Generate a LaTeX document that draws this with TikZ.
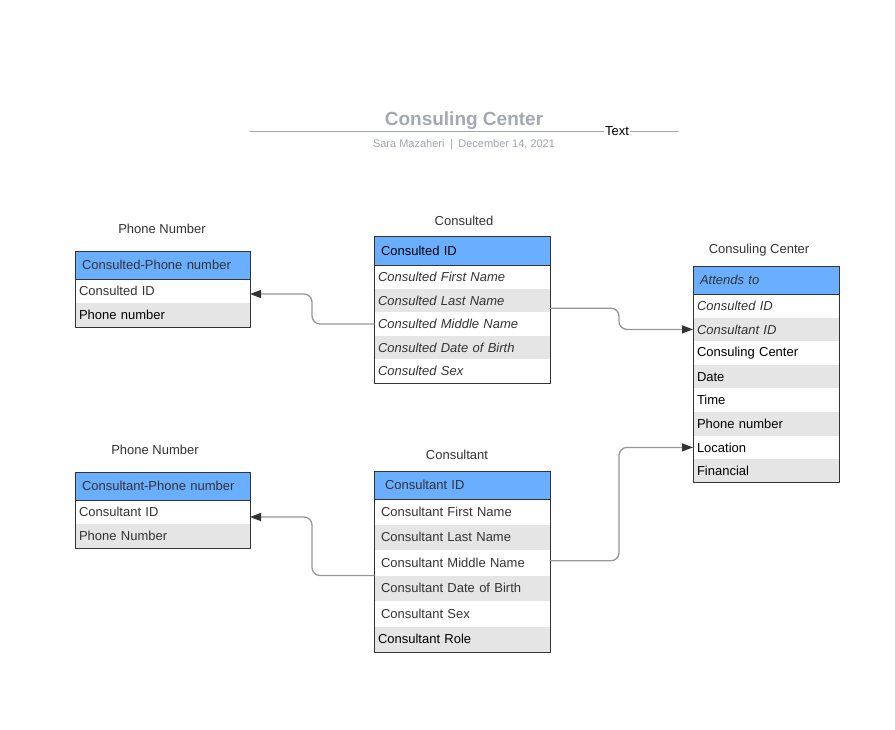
\documentclass[tikz,border=0pt]{standalone}
\usepackage{fontspec}
\setmainfont{Liberation Sans}
\usetikzlibrary{arrows.meta}

\definecolor{hdblue}{RGB}{106,174,255}
\definecolor{rowgray}{RGB}{229,229,229}
\definecolor{txtgray}{RGB}{51,51,51}
\definecolor{titlegray}{RGB}{164,168,180}
\definecolor{subgray}{RGB}{160,164,174}
\definecolor{rulegray}{RGB}{160,164,184}
\definecolor{conngray}{RGB}{150,150,150}
\definecolor{edge}{RGB}{51,51,51}

\begin{document}
\begin{tikzpicture}[line cap=round,line join=round,>={Triangle[length=11pt,width=8pt,color=edge,fill=edge]},x=1pt,y=-1pt,
  every node/.style={font=\fontsize{13}{15}\selectfont,text=txtgray},
  tbl/.style={anchor=north west,inner ysep=0pt,outer sep=0pt,align=left},
  hd/.style={tbl,fill=hdblue,draw=edge,line width=0.9pt,minimum height=28pt},
  cdrow/.style={tbl,text width=168pt,inner xsep=4pt,minimum height=23.6pt,font=\fontsize{13}{15}\selectfont\itshape},
  pnrow/.style={tbl,text width=167pt,inner xsep=4pt,minimum height=24pt},
  ccrow/.style={tbl,text width=138pt,inner xsep=4pt,minimum height=23.6pt},
  ctrow/.style={tbl,text width=162pt,inner xsep=7pt,minimum height=25.5pt},
  shade/.style={fill=rowgray},
  frame/.style={draw=edge,line width=0.9pt},
  conn/.style={draw=conngray,line width=1.3pt,rounded corners=8pt}]

\useasboundingbox (0,0) rectangle (895,729);

% title block
\draw[rulegray,line width=1pt] (250,131) -- (678,131);
\node[font=\fontsize{19}{22}\selectfont\bfseries,text=titlegray] (title) at (464,121) {Consuling Center};
\node[font=\fontsize{11}{13}\selectfont,text=subgray] (sub) at (464,145) {Sara Mazaheri\enspace|\enspace December 14, 2021};
\node[fill=white,inner xsep=1pt,inner ysep=1pt,text=black] (txtlbl) at (617,131.5) {Text};

% table captions
\node (lblpa) at (162,228.5) {Phone Number};
\node (lblcd) at (464,220.5) {Consulted};
\node (lblcc) at (759,250.5) {Consuling Center};
\node (lblpb) at (155,449.5) {Phone Number};
\node (lblct) at (457,454.5) {Consultant};

% Consulted-Phone number
\node[hd,text width=161pt,inner xsep=7pt] (pah) at (75,251) {Consulted-Phone number};
\node[pnrow] (pa1) at (pah.south west) {Consulted ID};
\node[pnrow,shade,text=black] (pa2) at (pa1.south west) {Phone number};
\draw[frame] (pah.north west) rectangle (pa2.south east);

% Consulted
\node[hd,text width=162pt,inner xsep=7pt,minimum height=29pt,text=black] (cdh) at (374,236) {Consulted ID};
\node[cdrow] (cd1) at (cdh.south west) {Consulted First Name};
\node[cdrow,shade] (cd2) at (cd1.south west) {Consulted Last Name};
\node[cdrow] (cd3) at (cd2.south west) {Consulted Middle Name};
\node[cdrow,shade] (cd4) at (cd3.south west) {Consulted Date of Birth};
\node[cdrow] (cd5) at (cd4.south west) {Consulted Sex};
\draw[frame] (cdh.north west) rectangle (cd5.south east);

% Consuling Center
\node[hd,text width=132pt,inner xsep=7pt,font=\fontsize{13}{15}\selectfont\itshape] (cch) at (693,266) {Attends to};
\node[ccrow,font=\fontsize{13}{15}\selectfont\itshape] (cc1) at (cch.south west) {Consulted ID};
\node[ccrow,shade,font=\fontsize{13}{15}\selectfont\itshape] (cc2) at (cc1.south west) {Consultant ID};
\node[ccrow,text=black] (cc3) at (cc2.south west) {Consuling Center};
\node[ccrow,shade,text=black] (cc4) at (cc3.south west) {Date};
\node[ccrow,text=black] (cc5) at (cc4.south west) {Time};
\node[ccrow,shade,text=black] (cc6) at (cc5.south west) {Phone number};
\node[ccrow,text=black] (cc7) at (cc6.south west) {Location};
\node[ccrow,shade,text=black] (cc8) at (cc7.south west) {Financial};
\draw[frame] (cch.north west) rectangle (cc8.south east);

% Consultant-Phone number
\node[hd,text width=161pt,inner xsep=7pt] (pbh) at (75,472) {Consultant-Phone number};
\node[pnrow] (pb1) at (pbh.south west) {Consultant ID};
\node[pnrow,shade] (pb2) at (pb1.south west) {Phone Number};
\draw[frame] (pbh.north west) rectangle (pb2.south east);

% Consultant
\node[hd,text width=154pt,inner xsep=11pt] (cth) at (374,471) {Consultant ID};
\node[ctrow] (ct1) at (cth.south west) {Consultant First Name};
\node[ctrow,shade] (ct2) at (ct1.south west) {Consultant Last Name};
\node[ctrow] (ct3) at (ct2.south west) {Consultant Middle Name};
\node[ctrow,shade] (ct4) at (ct3.south west) {Consultant Date of Birth};
\node[ctrow] (ct5) at (ct4.south west) {Consultant Sex};
\node[ctrow,shade,text width=168pt,inner xsep=4pt,text=black] (ct6) at (ct5.south west) {Consultant Role};
\draw[frame] (cth.north west) rectangle (ct6.south east);

% links
\draw[conn,->] (cd3.west) -- ++(-62,0) |- ([yshift=-3pt]pa1.east);
\draw[conn,->] ([yshift=4pt]cd2.south east) -- ++(69,0) |- (cc2.west);
\draw[conn,->] (ct3.south west) -- ++(-62,0) |- ([yshift=-5pt]pb1.east);
\draw[conn,->] ([yshift=2pt]ct3.east) -- ++(69,0) |- (cc7.west);

\end{tikzpicture}
\end{document}
